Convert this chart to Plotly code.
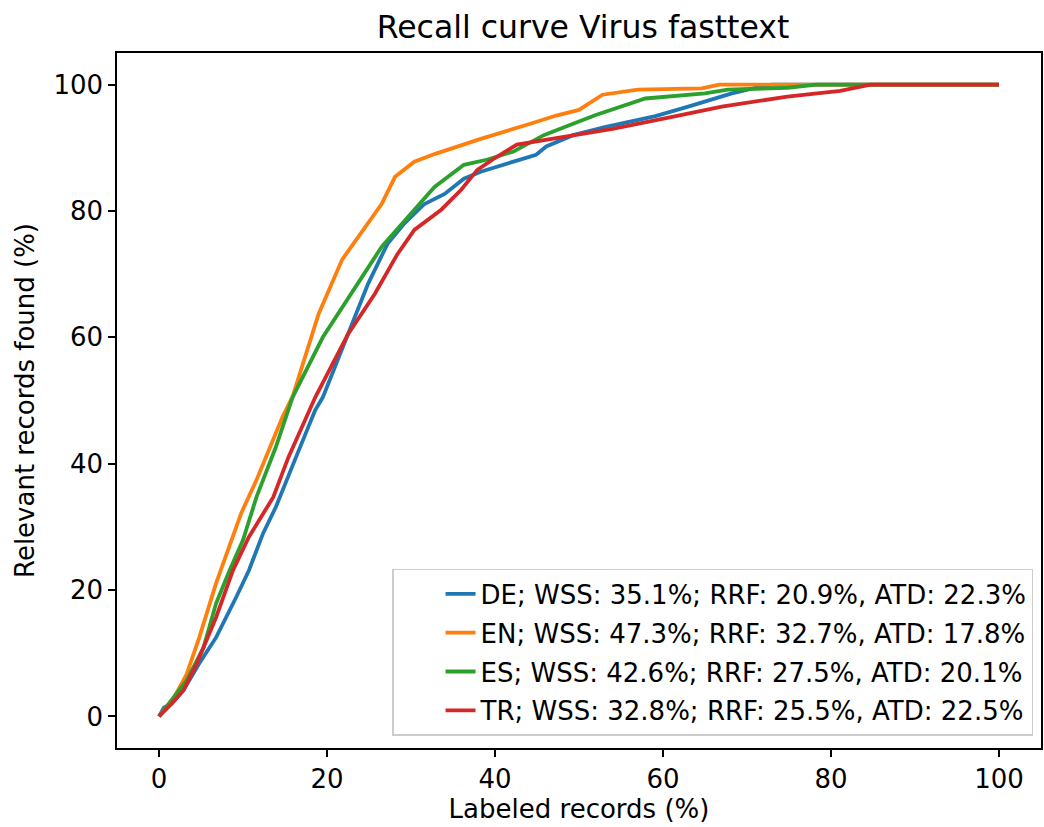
import plotly.graph_objects as go

# ---- data ----
de_x = [0, 0.6, 1.5, 2.9, 4.8, 6.8, 9.2, 10.7, 12.4, 13.9, 16.3, 18.6, 19.5, 22.5, 24.9, 27.2, 29.2, 31.6, 34.0,
        36.3, 38.3, 42.2, 44.9, 46.1, 49.3, 53.2, 59.1, 63.0, 68.2, 71.7, 73.0, 100]
de_y = [0, 1.4, 2.0, 4.1, 8.4, 12.5, 18.9, 23.1, 29.0, 33.1, 41.0, 48.5, 50.5, 60.5, 68.5, 74.8, 78.0, 81.1, 82.7,
        85.1, 86.2, 87.8, 88.9, 90.2, 92.0, 93.3, 95.0, 96.5, 98.6, 99.7, 100, 100]

en_x = [0, 1.8, 3.3, 4.8, 6.8, 8.4, 9.8, 11.6, 12.7, 14.7, 15.9, 19.0, 21.8, 24.5, 26.5, 28.1, 30.4, 32.8, 38.3,
        44.2, 47.3, 50.0, 52.8, 57.0, 64.6, 66.7, 100]
en_y = [0, 3.0, 6.7, 12.5, 21.1, 26.8, 32.2, 37.4, 41.0, 47.4, 50.6, 63.7, 72.3, 77.5, 81.1, 85.4, 87.8, 89.0, 91.4,
        93.8, 95.1, 96.0, 98.4, 99.2, 99.4, 100, 100]

es_x = [0, 1.8, 3.3, 5.3, 6.8, 8.4, 10.0, 11.6, 13.9, 15.9, 19.5, 24.2, 26.5, 30.4, 32.8, 36.3, 39.0, 42.2, 45.8,
        49.3, 52.0, 57.9, 65.0, 67.7, 74.8, 78.3, 100]
es_y = [0, 3.0, 5.7, 10.9, 17.9, 23.1, 27.9, 34.7, 42.6, 50.5, 60.0, 69.6, 74.3, 80.2, 83.8, 87.3, 88.1, 89.4, 92.0,
        93.8, 95.2, 97.8, 98.6, 99.2, 99.5, 100, 100]

tr_x = [0, 1.5, 2.9, 4.5, 6.8, 8.8, 10.7, 13.6, 15.4, 17.8, 18.6, 22.5, 25.7, 28.4, 30.4, 33.6, 36.0, 37.9, 39.9,
        42.6, 46.1, 49.3, 54.0, 61.1, 67.0, 74.8, 81.1, 84.7, 100]
tr_y = [0, 2.0, 4.1, 8.4, 15.7, 23.1, 28.4, 34.7, 41.0, 48.0, 50.5, 60.5, 66.9, 73.2, 77.0, 80.2, 83.4, 86.5, 88.3,
        90.5, 91.3, 92.0, 93.0, 94.9, 96.5, 98.1, 99.0, 100, 100]

labels = [
    "DE; WSS: 35.1%; RRF: 20.9%, ATD: 22.3%",
    "EN; WSS: 47.3%; RRF: 32.7%, ATD: 17.8%",
    "ES; WSS: 42.6%; RRF: 27.5%, ATD: 20.1%",
    "TR; WSS: 32.8%; RRF: 25.5%, ATD: 22.5%",
]
colors = ["#1f77b4", "#ff7f0e", "#2ca02c", "#d62728"]
series = [(de_x, de_y), (en_x, en_y), (es_x, es_y), (tr_x, tr_y)]

tick_vals = [0, 20, 40, 60, 80, 100]

FONT = "DejaVu Sans"

fig = go.Figure()
for i, ((xs, ys), lab, col) in enumerate(zip(series, labels, colors)):
    fig.add_trace(go.Scatter(x=xs, y=ys, mode="lines", name=lab, legendgroup=f"g{i}",
                             line=dict(color=col, width=3.8)))

axis_common = dict(
    showline=True, linecolor="black", linewidth=1.5, mirror=True,
    ticks="outside", ticklen=7, tickwidth=1.5, tickcolor="black",
    showgrid=False, zeroline=False,
    tickfont=dict(family=FONT, size=26, color="black"),
    range=[-5, 105], tickvals=tick_vals,
)

fig.update_layout(
    width=1044, height=827,
    margin=dict(l=117, r=1, t=53, b=79),
    paper_bgcolor="white", plot_bgcolor="white",
    font=dict(family=FONT, color="black"),
    title=dict(text="Recall curve Virus fasttext", x=583 / 1044, xanchor="center",
               y=1 - 27 / 827, yanchor="middle",
               font=dict(family=FONT, size=31.5, color="black")),
    xaxis=dict(axis_common, title=dict(text="Labeled records (%)",
                                       font=dict(family=FONT, size=26, color="black"), standoff=5)),
    yaxis=dict(axis_common, title=dict(text="Relevant records found (%)",
                                       font=dict(family=FONT, size=26, color="black"), standoff=11)),
    legend=dict(x=0.9914, y=0.0173, xanchor="right", yanchor="bottom",
                bgcolor="white", bordercolor="#cccccc", borderwidth=1.5,
                tracegroupgap=2, indentation=47,
                font=dict(family=FONT, size=26, color="black")),
    showlegend=True,
)

fig.write_html("out.html")
